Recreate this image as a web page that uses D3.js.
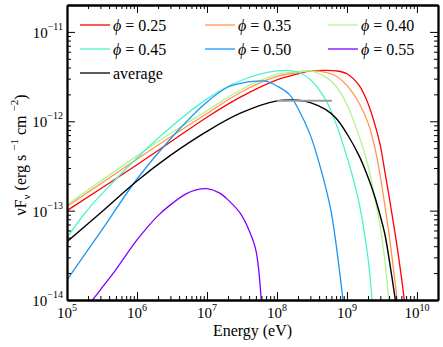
<!DOCTYPE html>
<html><head><meta charset="utf-8">
<script src="https://cdn.jsdelivr.net/npm/d3@7"></script>
<style>
body{margin:0;background:#fff}
svg{display:block}
text{font-family:"Liberation Serif","DejaVu Serif","Times New Roman",serif;fill:#000}
</style>
</head><body><div id="chart"></div>
<script>
// ---- data (energy in eV, nuFnu in erg s^-1 cm^-2) ----
const redE = [1e5, 1e6, 3e6, 1e7, 3e7, 1e8, 2e8, 3e8, 5e8, 7e8, 1e9, 1.5e9, 2e9, 2.5e9, 3e9, 3.5e9, 4e9, 5e9, 6e9, 6.6e9];
const redF = [1.00e-13, 3.26e-13, 5.85e-13, 1.11e-12, 1.86e-12, 2.90e-12, 3.40e-12, 3.66e-12, 3.72e-12, 3.67e-12, 3.40e-12, 2.50e-12, 1.58e-12, 9.3e-13, 5.35e-13, 2.66e-13, 1.44e-13, 4.9e-14, 1.8e-14, 1.0e-14];

const orangeE = [1e5, 1e6, 3e6, 1e7, 3e7, 1e8, 2e8, 3e8, 5e8, 7e8, 1e9, 1.5e9, 2e9, 2.5e9, 3e9, 3.5e9, 4e9, 5e9, 5.2e9];
const orangeF = [1.11e-13, 3.77e-13, 6.67e-13, 1.22e-12, 2.10e-12, 3.17e-12, 3.52e-12, 3.66e-12, 3.53e-12, 3.21e-12, 2.52e-12, 1.58e-12, 9.6e-13, 5.1e-13, 2.41e-13, 1.11e-13, 5.4e-14, 1.35e-14, 1.0e-14];

const greenE = [1e5, 1e6, 3e6, 1e7, 3e7, 1e8, 2e8, 3e8, 5e8, 7e8, 1e9, 1.5e9, 2e9, 2.5e9, 3e9, 3.5e9, 3.95e9];
const greenF = [1.16e-13, 4.10e-13, 7.31e-13, 1.31e-12, 2.24e-12, 3.34e-12, 3.58e-12, 3.66e-12, 3.12e-12, 2.45e-12, 1.54e-12, 6.7e-13, 3.2e-13, 1.38e-13, 6.5e-14, 2.66e-14, 1.0e-14];

const cyanE = [1e5, 1.8e5, 3e5, 1e6, 3e6, 1e7, 3e7, 1e8, 2e8, 3e8, 5e8, 7e8, 8e8, 1e9, 1.2e9, 1.5e9, 2e9, 2.29e9];
const cyanF = [4.99e-14, 9.35e-14, 1.48e-13, 3.89e-13, 8.53e-13, 1.78e-12, 2.84e-12, 3.66e-12, 3.55e-12, 2.93e-12, 1.72e-12, 9.4e-13, 6.95e-13, 3.99e-13, 2.44e-13, 1.19e-13, 2.94e-14, 1.0e-14];

const blueE = [1e5, 3e5, 1e6, 3e6, 1e7, 2e7, 3e7, 5e7, 7e7, 1e8, 1.5e8, 2e8, 3e8, 4e8, 5e8, 6e8, 7e8, 8.8e8];
const blueF = [1.68e-14, 5.75e-14, 2.26e-13, 6.34e-13, 1.64e-12, 2.42e-12, 2.65e-12, 2.81e-12, 2.81e-12, 2.48e-12, 2.00e-12, 1.39e-12, 7.0e-13, 3.42e-13, 1.79e-13, 9.4e-14, 4.2e-14, 1.0e-14];

const purpleE = [2.32e5, 3e5, 5e5, 1e6, 2e6, 3e6, 5e6, 7e6, 1e7, 1.5e7, 2e7, 3e7, 4e7, 5e7, 5.96e7];
const purpleF = [1.0e-14, 1.30e-14, 2.19e-14, 4.70e-14, 8.8e-14, 1.16e-13, 1.54e-13, 1.71e-13, 1.76e-13, 1.58e-13, 1.32e-13, 9.31e-14, 6.0e-14, 3.6e-14, 1.0e-14];

const avgE = [1e5, 3e5, 1e6, 3e6, 1e7, 3e7, 1e8, 2e8, 3e8, 5e8, 7e8, 1e9, 1.5e9, 2e9, 2.5e9, 3e9, 3.5e9, 4e9, 4.92e9];
const avgF = [4.50e-14, 9.42e-14, 2.15e-13, 4.15e-13, 7.71e-13, 1.23e-12, 1.69e-12, 1.72e-12, 1.62e-12, 1.35e-12, 1.08e-12, 7.25e-13, 4.07e-13, 2.36e-13, 1.43e-13, 8.69e-14, 5.34e-14, 2.89e-14, 1.0e-14];

const levelE = [1e8, 6.1e8];
const levelF = [1.7e-12, 1.7e-12];

const phiLabels = ["0.25", "0.35", "0.40", "0.45", "0.50", "0.55"];
const seriesColors = ["#ff0000", "#ff964f", "#b2f396", "#4df3ce", "#1a96f3", "#8000ff"];
const xTickExps = [5, 6, 7, 8, 9, 10];
const yTickExps = [-14, -13, -12, -11];

// ---- layout ----
const W = 443, H = 347;
const L = 67, R = 438, T = 5, B = 300;

const svg = d3.select("#chart").append("svg").attr("width", W).attr("height", H);

const x = d3.scaleLog().domain([1e5, 2e10]).range([L, R]);
const y = d3.scaleLog().domain([1e-14, 2e-11]).range([B, T]);

const series = [
  {E: redE, F: redF}, {E: orangeE, F: orangeF}, {E: greenE, F: greenF},
  {E: cyanE, F: cyanF}, {E: blueE, F: blueF}, {E: purpleE, F: purpleF}
].map((s, i) => ({...s, color: seriesColors[i], label: phiLabels[i]}));

svg.append("clipPath").attr("id", "clip").append("rect")
  .attr("x", L).attr("y", T).attr("width", R - L).attr("height", B - T);

const line = d3.line().x(d => x(d[0])).y(d => y(d[1])).curve(d3.curveCatmullRom.alpha(0.5));
const plot = svg.append("g").attr("clip-path", "url(#clip)");

series.forEach(s => {
  plot.append("path").datum(s.E.map((e, i) => [e, s.F[i]]))
    .attr("fill", "none").attr("stroke", s.color).attr("stroke-width", 1.3).attr("d", line);
});
plot.append("path").datum(avgE.map((e, i) => [e, avgF[i]]))
  .attr("fill", "none").attr("stroke", "#000").attr("stroke-width", 1.4).attr("d", line);
plot.append("path").datum(levelE.map((e, i) => [e, levelF[i]]))
  .attr("fill", "none").attr("stroke", "#9a9a9a").attr("stroke-width", 2).attr("d", d3.line().x(d => x(d[0])).y(d => y(d[1])));

// ---- axes ----
const isMajor = v => Math.abs(Math.log10(v) - Math.round(Math.log10(v))) < 1e-9;
const xMajor = xTickExps.map(e => Math.pow(10, e));
const xMinor = x.ticks().filter(v => !isMajor(v));
const yMajor = yTickExps.map(e => Math.pow(10, e));
const yMinor = y.ticks().filter(v => !isMajor(v));

function axisGroup(axisFn, scale, vals, size, tr) {
  const g = svg.append("g").attr("transform", tr)
    .call(axisFn(scale).tickValues(vals).tickSizeInner(-size).tickSizeOuter(0).tickFormat(""));
  g.select(".domain").attr("stroke", "#000").attr("stroke-width", 1.8);
  g.selectAll(".tick line").attr("stroke", "#000").attr("stroke-width", 1);
  return g;
}
axisGroup(d3.axisBottom, x, xMinor, 4, `translate(0,${B})`);
axisGroup(d3.axisBottom, x, xMajor, 8, `translate(0,${B})`);
axisGroup(d3.axisTop, x, xMinor, 4, `translate(0,${T})`);
axisGroup(d3.axisTop, x, xMajor, 8, `translate(0,${T})`);
axisGroup(d3.axisLeft, y, yMinor, 4, `translate(${L},0)`);
axisGroup(d3.axisLeft, y, yMajor, 8, `translate(${L},0)`);
axisGroup(d3.axisRight, y, yMinor, 4, `translate(${R},0)`);
axisGroup(d3.axisRight, y, yMajor, 8, `translate(${R},0)`);

// x tick labels
xTickExps.forEach(e => {
  const t = svg.append("text").attr("x", x(Math.pow(10, e))).attr("y", 318)
    .attr("text-anchor", "middle").attr("font-size", 15);
  t.append("tspan").text("10");
  t.append("tspan").attr("dy", -7).attr("font-size", 10).text(e);
});
// y tick labels
yTickExps.forEach(e => {
  const t = svg.append("text").attr("x", 63).attr("y", y(Math.pow(10, e)) + 6)
    .attr("text-anchor", "end").attr("font-size", 15);
  t.append("tspan").text("10");
  t.append("tspan").attr("dy", -8).attr("font-size", 10).text("\u2212" + Math.abs(e));
});

// axis titles
svg.append("text").attr("x", (L + R) / 2).attr("y", 336).attr("text-anchor", "middle")
  .attr("font-size", 16).text("Energy (eV)");

const yl = svg.append("text").attr("transform", "translate(26,155) rotate(-90)")
  .attr("text-anchor", "middle").attr("font-size", 16);
yl.append("tspan").text("\u03bdF");
yl.append("tspan").attr("dy", 4).attr("font-size", 11).text("\u03bd");
yl.append("tspan").attr("dy", -4).text(" (erg s ");
yl.append("tspan").attr("dy", -8).attr("font-size", 11).text("\u22121");
yl.append("tspan").attr("dy", 8).text(" cm ");
yl.append("tspan").attr("dy", -8).attr("font-size", 11).text("\u22122");
yl.append("tspan").attr("dy", 8).text(")");

// ---- legend ----
const legendItems = series.map(s => ({color: s.color, phi: s.label}))
  .concat([{color: "#000", phi: null}]);
const colX = [80, 205, 328], rowY = [25, 49, 73];
legendItems.forEach((it, i) => {
  const cx = colX[i % 3], cy = rowY[Math.floor(i / 3)];
  svg.append("line").attr("x1", cx).attr("x2", cx + 30).attr("y1", cy).attr("y2", cy)
    .attr("stroke", it.color).attr("stroke-width", 1.3);
  const t = svg.append("text").attr("x", cx + 33).attr("y", cy + 6).attr("font-size", 16);
  if (it.phi) {
    t.append("tspan").attr("font-style", "italic").text("\u03d5");
    t.append("tspan").text(" = " + it.phi);
  } else {
    t.text("average");
  }
});
</script>
</body></html>
